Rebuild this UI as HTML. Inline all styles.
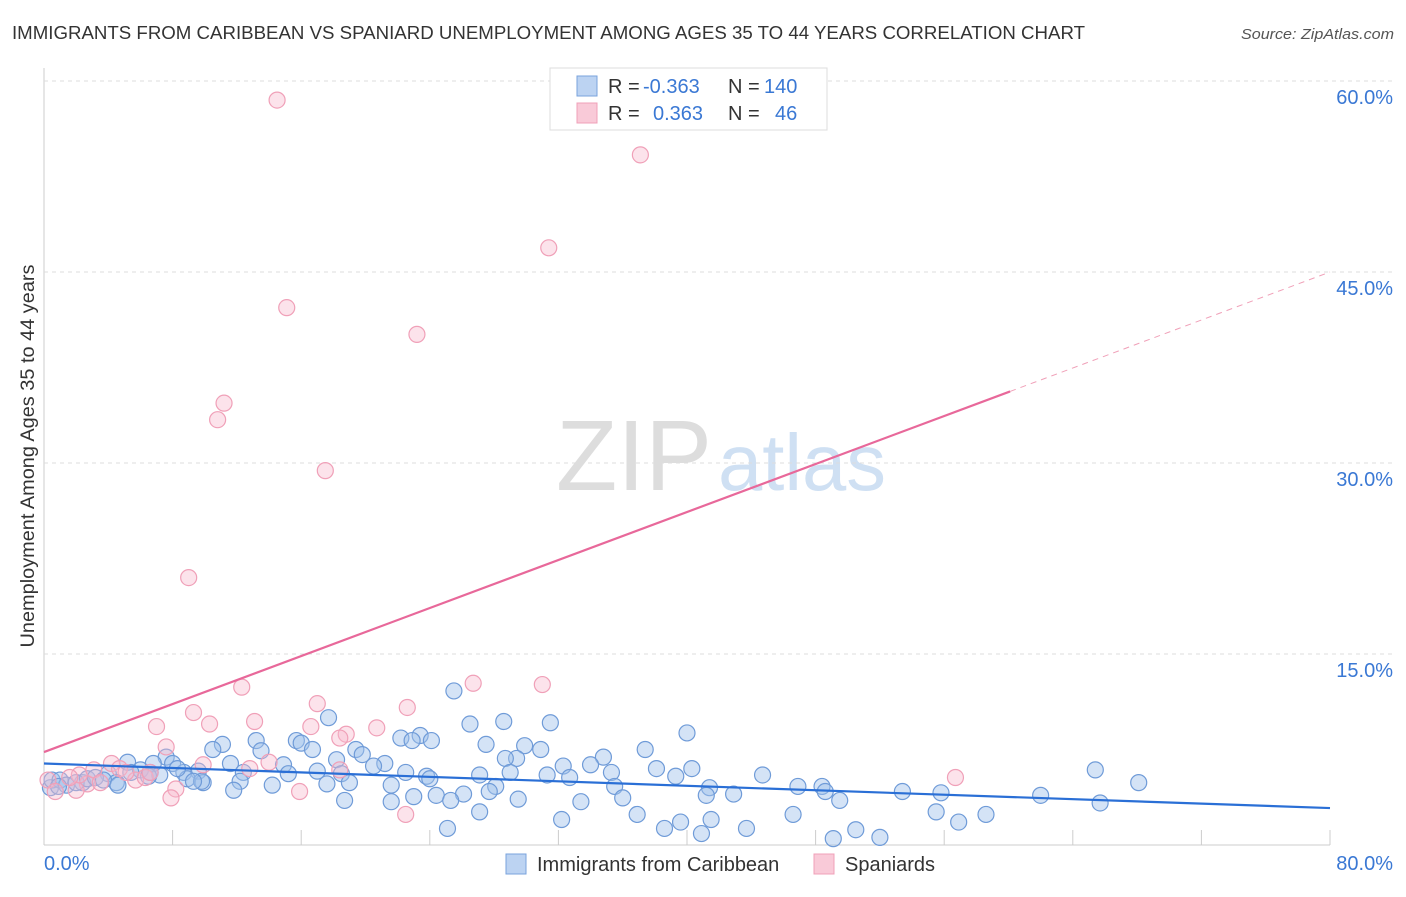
<!DOCTYPE html>
<html><head><meta charset="utf-8"><style>
body{margin:0;background:#fff;font-family:"Liberation Sans",sans-serif;}
svg text{font-family:"Liberation Sans",sans-serif;}
</style></head><body>
<svg id="chart" width="1406" height="892">
<text x="12" y="39" font-size="18.6" fill="#333" textLength="1073" lengthAdjust="spacingAndGlyphs">IMMIGRANTS FROM CARIBBEAN VS SPANIARD UNEMPLOYMENT AMONG AGES 35 TO 44 YEARS CORRELATION CHART</text>
<text x="1241" y="39" font-size="15" fill="#555" font-style="italic" textLength="153" lengthAdjust="spacingAndGlyphs">Source: ZipAtlas.com</text>
<text x="556" y="490" font-size="100" fill="#ddd" font-family="Liberation Serif" textLength="156" lengthAdjust="spacingAndGlyphs">ZIP</text>
<text x="718" y="490" font-size="80" fill="#cfe0f3" textLength="168" lengthAdjust="spacingAndGlyphs">atlas</text>
<text transform="translate(34,456) rotate(-90)" font-size="19.5" fill="#333" text-anchor="middle" textLength="383" lengthAdjust="spacingAndGlyphs">Unemployment Among Ages 35 to 44 years</text>
<g id="grid"></g><g id="pts"></g><g id="trend"></g>
<g>
<rect x="550" y="68" width="277" height="62" fill="#fff" stroke="#ddd"/>
<rect x="577" y="76" width="20" height="20" fill="#bcd3f2" stroke="#7aa3dc"/>
<rect x="577" y="103" width="20" height="20" fill="#f9cad8" stroke="#f0a0b8"/>
<text x="608" y="93" font-size="20" fill="#333">R = <tspan fill="#3a78d4" x="643">-0.363</tspan><tspan x="728">N = </tspan><tspan fill="#3a78d4" x="764">140</tspan></text>
<text x="608" y="120" font-size="20" fill="#333">R = <tspan fill="#3a78d4" x="653">0.363</tspan><tspan x="728">N = </tspan><tspan fill="#3a78d4" x="775">46</tspan></text>
</g>
<g>
<rect x="506" y="854" width="20" height="20" fill="#bcd3f2" stroke="#7aa3dc"/>
<text x="537" y="871" font-size="20" fill="#333">Immigrants from Caribbean</text>
<rect x="814" y="854" width="20" height="20" fill="#f9cad8" stroke="#f0a0b8"/>
<text x="845" y="871" font-size="20" fill="#333">Spaniards</text>
</g>
</svg>
<script>
const yTicks=[15,30,45,60];
const yTickLabels=["15.0%","30.0%","45.0%","60.0%"];
const xTicks=[8,16,24,32,40,48,56,64,72,80];
const blueX=[25.5,28.6,26.5,31.5,17.7,40.0,22.2,23.4,24.1,22.9,15.7,16.0,13.2,11.1,10.5,27.5,29.9,30.9,19.4,19.8,16.7,13.5,37.4,34.8,29.4,28.7,21.2,18.2,7.6,5.2,6.8,8.0,14.9,11.6,20.5,32.3,34.0,38.1,40.3,65.4,44.7,35.3,27.1,29.0,31.3,32.7,23.8,22.5,24.0,18.5,17.0,15.2,12.4,9.6,8.7,7.2,6.0,4.0,39.3,68.1,48.4,46.9,41.4,35.5,28.1,21.6,19.0,17.6,14.2,12.2,9.9,8.9,4.5,2.4,53.4,55.8,62.0,42.9,41.2,36.0,27.7,26.1,24.4,23.0,11.8,48.6,49.5,65.7,33.4,29.5,25.3,21.6,18.7,58.6,55.5,46.6,36.9,32.2,27.1,41.5,39.6,56.9,25.1,38.6,40.9,43.7,50.5,52.0,49.1,0.4,0.5,1.0,1.4,2.0,2.7,3.2,3.7,4.6,5.4,6.5,6.6,8.3,9.8,9.3,0.9];
const blueY=[12.1,9.7,9.5,9.6,10.0,8.8,8.4,8.6,8.2,8.2,8.2,8.0,8.2,7.9,7.5,7.9,7.8,7.5,7.5,7.1,7.5,7.4,7.5,6.9,6.8,6.8,6.4,6.7,6.9,6.5,6.4,6.4,6.3,6.4,6.2,6.2,6.3,6.0,6.0,5.9,5.5,5.7,5.5,5.7,5.5,5.3,5.4,5.7,5.2,5.6,5.8,5.6,5.7,5.8,5.7,5.5,5.9,5.6,5.4,4.9,4.6,4.6,4.5,4.6,4.6,4.7,4.9,4.8,4.7,5.0,4.9,5.2,4.9,4.9,4.2,4.1,3.9,4.0,3.9,3.7,4.2,4.0,3.9,3.8,4.3,4.2,3.5,3.3,3.4,3.6,3.5,3.4,3.5,2.4,2.6,2.4,2.4,2.0,2.6,2.0,1.8,1.8,1.3,1.3,0.9,1.3,1.2,0.6,0.5,4.5,5.1,5.1,4.7,4.9,5.2,5.3,5.1,4.7,5.7,5.4,5.7,6.0,5.0,5.0,4.6];
const pinkX=[14.5,37.1,31.4,15.1,23.2,11.2,10.8,17.5,9.0,26.7,31.0,12.3,17.0,22.6,9.3,7.0,10.3,13.1,16.6,20.7,18.8,18.4,7.6,9.9,4.2,14.0,12.8,4.7,5.7,6.3,8.2,7.9,15.9,22.5,56.7,2.7,2.0,2.2,3.1,0.25,3.5,6.6,18.4,1.6,0.7,5.1];
const pinkY=[58.5,54.2,46.9,42.2,40.1,34.7,33.4,29.4,21.0,12.7,12.6,12.4,11.1,10.8,10.4,9.3,9.5,9.7,9.3,9.2,8.7,8.4,7.7,6.3,6.4,6.5,6.0,6.0,5.1,5.3,4.4,3.7,4.2,2.4,5.3,4.8,4.3,5.5,5.9,5.1,4.9,5.7,5.9,5.3,4.2,5.7];
const blueTrend=[6.4,2.9];
const pinkTrend=[7.3,45.0];
const pinkSolidEnd=60.1;
const X=v=>44+v/80*1286, Y=v=>845-v/15*191;
const NS="http://www.w3.org/2000/svg";
function mk(tag,attrs,parent){const e=document.createElementNS(NS,tag);for(const k in attrs)e.setAttribute(k,attrs[k]);parent.appendChild(e);return e;}
const grid=document.getElementById('grid');
mk('line',{x1:44,y1:68,x2:44,y2:845,stroke:'#ccc'},grid);
mk('line',{x1:44,y1:845,x2:1330,y2:845,stroke:'#ccc'},grid);
yTicks.forEach((t,i)=>{
 const l=mk('line',{x1:44,y1:Y(t),x2:1394,y2:Y(t),stroke:'#ddd','stroke-dasharray':'4,4'},grid);
 
 
 const tx=mk('text',{x:1393,y:Y(t)+23,'font-size':20,fill:'#3a78d4','text-anchor':'end'},grid);
 tx.textContent=yTickLabels[i];
 
 
});
xTicks.forEach(t=>{
 const l=mk('line',{x1:X(t),y1:845,x2:X(t),y2:830,stroke:'#ccc'},grid);
 
 
});
const x0=mk('text',{x:44,y:870,'font-size':20,fill:'#3a78d4'},grid);x0.textContent='0.0%';


const x1=mk('text',{x:1393,y:870,'font-size':20,fill:'#3a78d4','text-anchor':'end'},grid);x1.textContent='80.0%';


const pts=document.getElementById('pts');
blueX.forEach((x,i)=>{
 const c=mk('circle',{cx:X(x),cy:Y(blueY[i]),r:8,fill:'rgba(160,192,236,0.45)',stroke:'#6f9bd8','stroke-width':1.2},pts);
 
 
});
pinkX.forEach((x,i)=>{
 const c=mk('circle',{cx:X(x),cy:Y(pinkY[i]),r:8,fill:'rgba(247,186,205,0.4)',stroke:'#f0a0b8','stroke-width':1.2},pts);
 
 
});
const tr=document.getElementById('trend');
const bl=mk('line',{x1:X(0),y1:Y(blueTrend[0]),x2:X(80),y2:Y(blueTrend[1]),stroke:'#2a6fd6','stroke-width':2.2},tr);


const pAt=x=>pinkTrend[0]+(pinkTrend[1]-pinkTrend[0])*x/80;
const pl=mk('line',{x1:X(0),y1:Y(pAt(0)),x2:X(pinkSolidEnd),y2:Y(pAt(pinkSolidEnd)),stroke:'#e8689a','stroke-width':2.2},tr);


const pd=mk('line',{x1:X(pinkSolidEnd),y1:Y(pAt(pinkSolidEnd)),x2:X(80),y2:Y(pAt(80)),stroke:'#f0a0b8','stroke-width':1,'stroke-dasharray':'6,5'},tr);


</script>
</body></html>
